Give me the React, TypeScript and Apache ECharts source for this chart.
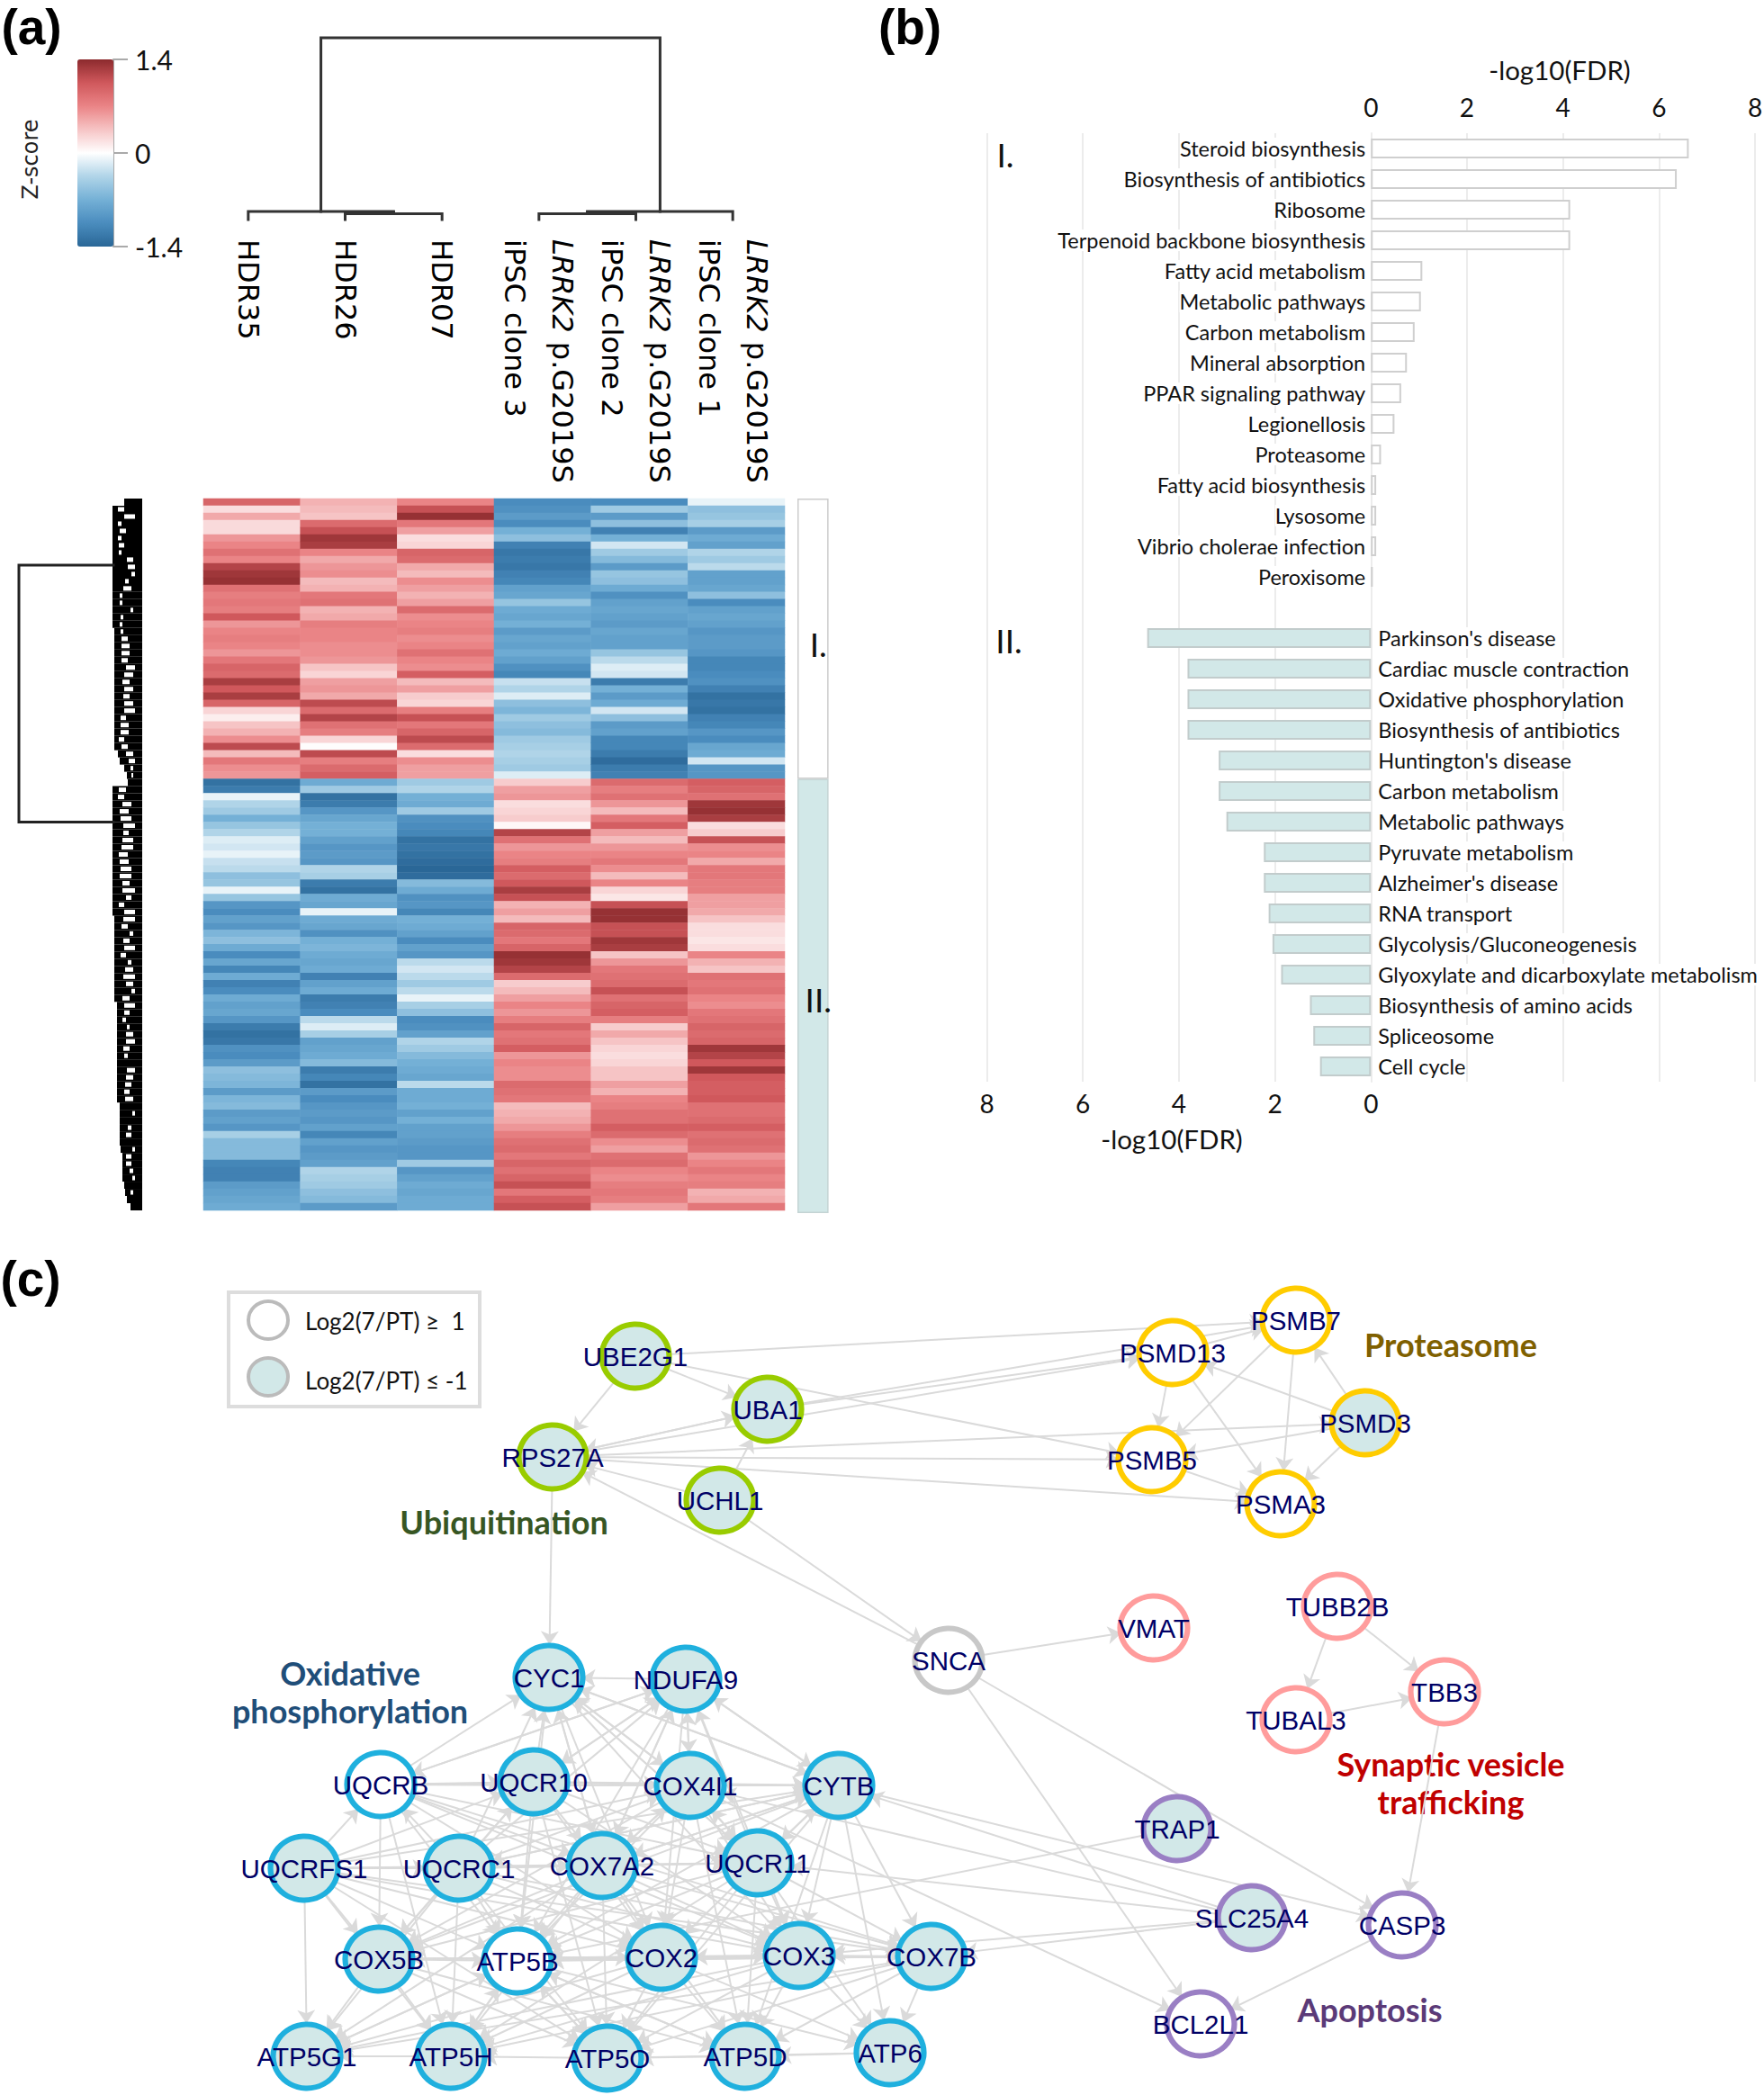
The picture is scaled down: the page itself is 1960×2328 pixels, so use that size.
import React, { useEffect, useRef } from "react";
import * as echarts from "echarts";

const sampleLabels = ["HDR35", "HDR26", "HDR07", "{i|LRRK2} p.G2019S\niPSC clone 3", "{i|LRRK2} p.G2019S\niPSC clone 2", "{i|LRRK2} p.G2019S\niPSC clone 1"];
const sampleNames = ["HDR35", "HDR26", "HDR07", "iPSC3", "iPSC2", "iPSC1"];

const hdr35 = [0.95,0.2,0.5,0.22,0.22,0.6,0.7,0.85,0.7,1.2,1.3,1.35,0.85,0.75,0.8,0.75,1.05,0.6,0.7,0.75,0.7,0.6,0.8,0.95,0.9,1.25,1.05,1.25,0.95,0.25,0.1,0.35,0.45,0.65,1.15,0.4,0.8,0.65,0.6,
  -1.3,-1.2,-0.1,-0.35,-0.45,-0.7,-0.5,-0.35,-0.15,-0.2,-0.1,-0.25,-0.3,-0.55,-0.5,-0.1,-0.5,-0.95,-1.05,-0.85,-0.95,-0.65,-0.55,-0.75,-1.05,-0.8,-1.1,-0.75,-1.15,-1.05,-0.75,-0.85,-0.8,-0.95,-1.2,-1.3,-1.25,-1,-1.05,-0.9,-0.55,-0.6,-0.65,-0.9,-0.65,-0.6,-0.9,-0.85,-0.95,-0.4,-0.6,-0.6,-0.6,-1.1,-1.15,-1.15,-0.9,-0.85,-0.8,-0.75];
const hdr26 = [0.45,0.4,0.35,0.9,1.1,1.3,1.25,0.7,0.5,0.6,0.65,0.4,0.45,0.8,0.85,0.45,0.5,0.75,0.7,0.7,0.65,0.65,0.6,0.35,0.25,0.55,0.6,0.5,1.15,0.9,1.2,0.85,0.75,0.25,0.02,1.15,0.75,0.9,1,
  -0.75,-0.45,-1.3,-1.2,-0.95,-0.8,-0.7,-0.7,-0.85,-0.95,-0.9,-0.95,-0.35,-0.4,-1.2,-1.3,-0.75,-0.8,-0.1,-0.75,-0.8,-1,-0.7,-0.65,-0.75,-0.8,-0.75,-1.15,-0.85,-0.75,-1.2,-1.15,-1.05,-0.3,-0.15,-0.4,-0.85,-0.8,-0.75,-0.6,-1.2,-1.1,-1.3,-0.9,-1.05,-0.95,-0.9,-0.95,-0.85,-1.1,-0.85,-0.95,-0.9,-0.85,-0.35,-0.4,-0.45,-0.55,-0.6,-0.9];
const hdr07 = [0.7,1.1,1.35,0.8,0.55,0.2,0.25,0.95,0.9,0.5,0.4,0.65,0.55,0.45,0.55,0.9,0.65,0.7,0.75,0.65,0.7,0.85,0.7,0.65,1,0.4,0.55,0.3,0.25,0.75,1.1,0.8,0.95,1.15,0.9,0.2,0.65,0.55,0.55,
  -0.45,-0.35,-0.7,-0.75,-0.45,-1,-1.05,-1.1,-1.3,-1.25,-1.3,-1.35,-1.4,-1.35,-0.6,-0.75,-1,-0.95,-1.1,-0.7,-0.75,-0.85,-1.05,-0.85,-0.95,-0.3,-0.2,-0.3,-0.45,-0.3,-0.1,-0.4,-0.55,-1.05,-1,-0.85,-0.35,-0.45,-0.6,-0.7,-0.75,-0.8,-0.3,-0.75,-0.75,-0.7,-0.85,-0.7,-0.85,-0.85,-0.9,-0.95,-0.95,-0.45,-0.95,-0.85,-0.75,-0.8,-0.75,-0.75];
const ipsc3 = [-1.05,-1,-0.9,-1.05,-0.7,-0.55,-1.15,-1.25,-1.2,-1.25,-1.15,-1.1,-0.85,-0.8,-0.5,-0.75,-0.8,-0.7,-0.9,-0.8,-0.85,-0.75,-0.85,-1,-1.1,-0.25,-0.35,-0.15,-0.55,-0.65,-0.45,-0.55,-0.6,-0.45,-0.4,-0.35,-0.4,-0.45,-0.15,
  0.3,0.55,0.6,0.2,0.25,0.3,0.05,1.2,0.85,0.6,0.7,0.75,1,0.9,1.05,1.25,1.1,0.45,0.55,0.4,0.95,0.9,0.8,0.95,1.35,1.3,1.2,0.9,0.3,0.4,0.55,0.7,0.6,0.75,0.95,0.8,0.85,1,0.6,0.7,0.65,0.65,0.9,0.85,0.8,0.4,0.45,0.5,0.6,0.75,0.85,0.9,0.8,0.95,0.85,0.95,1.1,0.8,1,1.1];
const ipsc2 = [-1.05,-0.45,-0.9,-0.55,-1.15,-0.7,-0.2,-0.45,-0.6,-0.9,-0.5,-0.55,-0.75,-1,-0.85,-0.8,-0.85,-0.9,-0.8,-0.85,-0.85,-0.5,-0.3,-0.15,-0.2,-1.2,-0.7,-0.9,-0.75,-0.2,-0.55,-0.9,-0.85,-1.1,-1.1,-1.2,-1.35,-1.2,-1.15,
  0.9,0.75,0.85,0.6,0.4,0.8,1,0.55,0.4,0.6,0.7,0.8,0.65,0.4,0.7,0.25,0.15,1.1,1.35,1.35,1.1,1.1,1.3,1.25,0.35,0.6,0.8,0.85,0.9,1.1,0.85,0.95,1,0.75,0.3,0.5,0.35,0.25,0.2,0.25,0.35,0.35,0.55,0.45,0.7,0.75,0.85,0.85,1,0.9,0.65,0.55,0.85,0.9,0.7,0.65,0.75,0.8,0.75,0.55];
const ipsc1 = [-0.1,-0.55,-0.5,-0.4,-0.9,-0.75,-0.85,-0.35,-0.45,-0.3,-0.85,-0.85,-0.8,-0.55,-1.05,-0.85,-0.8,-0.85,-0.95,-0.9,-0.9,-0.95,-1.1,-1.1,-1.05,-1,-1.15,-1.3,-1.25,-1.3,-1.15,-1.1,-0.95,-1.05,-0.8,-0.75,-0.2,-0.95,-0.95,
  1,0.95,0.85,1.3,1.35,1.25,0.2,0.3,1.1,0.65,0.7,0.5,0.8,0.8,0.75,0.75,0.55,0.55,0.5,0.35,0.2,0.2,0.15,0.2,0.7,0.45,0.35,0.85,0.8,0.85,0.7,0.65,0.8,0.85,0.95,0.9,0.95,1.3,1.2,1.05,1.3,1.05,1,1,1.05,0.85,0.85,0.9,1,0.85,0.9,0.85,0.6,0.7,0.8,0.7,0.75,0.45,0.5,0.8];
const heatColumns = [hdr35, hdr26, hdr07, ipsc3, ipsc2, ipsc1];

const clusterRows = [39, 60.4];
const clusterNames = ["I.", "II."];

// row dendrogram silhouette, per row: total extent, and where a white hole starts and how long it is (in dendrogram height)
const rowDendroExtent = [
  20,33,33,33,33,33,33,33,33,33, 33,33,33,33,33,33,33,33,31,31, 31,31,31,31,31,31,31,31,31,31, 31,31,31,31,31,27,25,20,17,16,
  33,33,33,33,33,33,33,33,33,33, 33,33,33,33,33,33,33,33,31,31, 31,31,31,31,31,31,31,31,31,31, 28,28,28,28,28,28,28,28,28,28,
  28,28,28,28,25,25,25,25,25,25, 24,22,22,22,22,20,19,17,13];
const rowDendroSolid = [
  20,20,8,23,18,23,20,23,10,8, 8,15,12,22,22,10,21,22,21,16, 14,14,16,8,10,14,10,14,10,8, 18,15,15,20,16,10,8,10,10,16,
  18,20,12,15,12,8,15,10,10,16, 15,12,12,14,8,12,20,8,8,16, 10,14,8,18,12,10,8,10,8,14, 8,14,18,14,10,8,14,16,24,8,
  10,12,14,10,25,8,25,12,12,25, 8,12,12,10,8,20,10,17,13];
const rowDendroGap = [
  0,7,12,4,7,4,6,3,7,8, 4,4,9,3,3,3,3,3,3,7, 9,9,7,10,10,8,10,7,10,12, 6,9,9,6,7,8,7,3,2,0,
  8,7,10,10,12,13,6,12,13,10, 10,12,13,8,14,6,6,12,13,7, 4,7,12,6,4,9,13,8,4,8, 12,6,4,3,8,10,7,4,0,9,
  8,7,6,9,0,3,0,4,6,0, 3,6,6,4,3,0,3,0,0];
const rowDendroLinks = [
  [[32, 9.25], [137, 9.25], [137, 45], [32, 45]],
];
// column dendrogram: leaf position, merge height
const colDendroLinks = [
  [[1, 0], [1, 6.5], [2, 6.5], [2, 0]],
  [[1, 8.5], [1.5, 8.5]],
  [[0, 0], [0, 9], [1.5, 9], [1.5, 6.5]],
  [[3, 0], [3, 6.5], [4, 6.5], [4, 0]],
  [[3.5, 8.5], [4, 8.5]],
  [[3.5, 6.5], [3.5, 9], [5, 9], [5, 0]],
  [[0.75, 9], [0.75, 202], [4.25, 202], [4.25, 9]],
];

const upCategories = ["Steroid biosynthesis", "Biosynthesis of antibiotics", "Ribosome", "Terpenoid backbone biosynthesis", "Fatty acid metabolism", "Metabolic pathways", "Carbon metabolism", "Mineral absorption", "PPAR signaling pathway", "Legionellosis", "Proteasome", "Fatty acid biosynthesis", "Lysosome", "Vibrio cholerae infection", "Peroxisome"];
const upValues = [6.62, 6.37, 4.15, 4.15, 1.07, 1.04, 0.91, 0.75, 0.63, 0.49, 0.21, 0.11, 0.11, 0.11, 0.04];
const downCategories = ["Parkinson's disease", "Cardiac muscle contraction", "Oxidative phosphorylation", "Biosynthesis of antibiotics", "Huntington's disease", "Carbon metabolism", "Metabolic pathways", "Pyruvate metabolism", "Alzheimer's disease", "RNA transport", "Glycolysis/Gluconeogenesis", "Glyoxylate and dicarboxylate metabolism", "Biosynthesis of amino acids", "Spliceosome", "Cell cycle"];
const downValues = [4.66, 3.82, 3.82, 3.82, 3.17, 3.17, 3.01, 2.23, 2.23, 2.13, 2.05, 1.87, 1.27, 1.2, 1.06];

// network: name, x, y, pathway, reduced (filled)
const networkNodes: [string, number, number, string, boolean][] = [
  ["UBE2G1", 706, 1507, "ubi", true], ["UBA1", 853, 1566, "ubi", true], ["RPS27A", 614, 1619, "ubi", true], ["UCHL1", 800, 1667, "ubi", true],
  ["PSMB7", 1440, 1467, "pro", false], ["PSMD13", 1303, 1503, "pro", false], ["PSMD3", 1517, 1581, "pro", true], ["PSMB5", 1280, 1622, "pro", false], ["PSMA3", 1423, 1671, "pro", false],
  ["SNCA", 1054, 1845, "none", false],
  ["VMAT", 1282, 1809, "syn", false], ["TUBB2B", 1486, 1785, "syn", false], ["TUBAL3", 1440, 1911, "syn", false], ["TBB3", 1605, 1880, "syn", false],
  ["TRAP1", 1308, 2032, "apo", true], ["SLC25A4", 1391, 2131, "apo", true], ["CASP3", 1558, 2139, "apo", false], ["BCL2L1", 1334, 2249, "apo", false],
  ["CYC1", 610, 1864, "ox", true], ["NDUFA9", 762, 1866, "ox", true],
  ["UQCRB", 423, 1983, "ox", false], ["UQCR10", 593, 1980, "ox", true], ["COX4I1", 767, 1984, "ox", true], ["CYTB", 932, 1984, "ox", true],
  ["UQCRFS1", 338, 2076, "ox", true], ["UQCRC1", 510, 2076, "ox", true], ["COX7A2", 669, 2073, "ox", true], ["UQCR11", 842, 2070, "ox", true],
  ["COX5B", 421, 2177, "ox", true], ["ATP5B", 575, 2179, "ox", false], ["COX2", 735, 2175, "ox", true], ["COX3", 888, 2173, "ox", true], ["COX7B", 1035, 2174, "ox", true],
  ["ATP5G1", 341, 2285, "ox", true], ["ATP5H", 501, 2285, "ox", true], ["ATP5O", 675, 2287, "ox", true], ["ATP5D", 828, 2285, "ox", true], ["ATP6", 989, 2281, "ox", true],
];
const pathwayColors: Record<string, string> = { ubi: "#99cc00", pro: "#ffcc00", none: "#c8c8c8", syn: "#ff9c9c", apo: "#9a7fc4", ox: "#1fb0de" };

const networkEdges: [string, string[]][] = [
  ["UBE2G1", ["UBA1", "RPS27A", "PSMB7", "PSMB5"]],
  ["UBA1", ["RPS27A", "PSMD13", "PSMB7"]],
  ["RPS27A", ["UBA1", "PSMD13", "PSMD3", "PSMB5", "PSMA3", "CYC1"]],
  ["UCHL1", ["RPS27A", "UBA1", "SNCA"]],
  ["SNCA", ["RPS27A", "VMAT", "BCL2L1", "CASP3"]],
  ["PSMD13", ["PSMB5", "PSMA3", "PSMB7"]],
  ["PSMB7", ["PSMB5", "PSMA3"]],
  ["PSMD3", ["PSMB7", "PSMD13", "PSMB5", "PSMA3"]],
  ["PSMB5", ["PSMA3"]],
  ["TUBB2B", ["TUBAL3", "TBB3"]],
  ["TUBAL3", ["TBB3"]],
  ["TBB3", ["CASP3"]],
  ["CASP3", ["BCL2L1"]],
  ["TRAP1", ["ATP5B"]],
  ["SLC25A4", ["CYTB", "COX4I1", "UQCR11", "COX7B", "COX3"]],
  ["NDUFA9", ["CYC1", "COX4I1", "CYTB", "UQCR10", "UQCRB", "COX7A2", "ATP5B", "COX2", "COX3"]],
  ["CYC1", ["COX4I1", "CYTB", "COX7A2", "UQCR11", "COX2", "COX3", "ATP5B"]],
  ["UQCRB", ["CYC1", "NDUFA9", "UQCR10", "COX4I1", "CYTB", "COX7A2", "UQCR11", "COX5B", "ATP5B", "COX2", "COX3", "COX7B", "ATP5H"]],
  ["UQCR10", ["CYC1", "NDUFA9", "COX4I1", "CYTB", "COX7A2", "UQCR11", "COX5B", "ATP5B", "COX2", "COX3", "ATP5O"]],
  ["COX4I1", ["CYC1", "NDUFA9", "CYTB", "UQCR11", "COX7A2", "COX2", "COX3", "ATP5B", "ATP5D", "COX5B", "BCL2L1"]],
  ["CYTB", ["CYC1", "NDUFA9", "UQCR11", "COX7A2", "COX3", "COX7B", "ATP5D", "ATP6", "ATP5O", "UQCRC1", "COX5B", "ATP5B", "CASP3"]],
  ["UQCRFS1", ["UQCRB", "UQCR10", "COX4I1", "CYTB", "UQCRC1", "COX7A2", "UQCR11", "COX5B", "ATP5B", "COX2", "COX3", "COX7B", "ATP5G1", "ATP5H", "ATP5O"]],
  ["UQCRC1", ["UQCRB", "CYC1", "NDUFA9", "UQCR10", "COX4I1", "CYTB", "COX7A2", "UQCR11", "COX5B", "ATP5B", "COX2", "COX3", "COX7B", "ATP5H", "ATP5O", "ATP5G1"]],
  ["COX7A2", ["CYC1", "NDUFA9", "COX4I1", "CYTB", "UQCR11", "COX5B", "ATP5B", "COX2", "COX3", "COX7B", "ATP5G1", "ATP5H", "ATP5O", "ATP5D"]],
  ["UQCR11", ["CYC1", "NDUFA9", "COX4I1", "CYTB", "COX5B", "ATP5B", "COX2", "COX3", "COX7B", "ATP5H", "ATP5O", "ATP5D", "ATP6"]],
  ["COX5B", ["ATP5B", "COX2", "COX3", "COX7B", "ATP5G1", "ATP5H", "ATP5O", "ATP5D"]],
  ["ATP5B", ["COX3", "COX7B", "ATP5H", "ATP5O", "ATP5D", "ATP5G1", "ATP6"]],
  ["COX2", ["ATP5B", "ATP5G1", "ATP5H", "ATP5O", "ATP5D", "ATP6"]],
  ["COX3", ["COX2", "ATP5B", "ATP5G1", "ATP5H", "ATP5O", "ATP5D", "ATP6", "COX5B"]],
  ["COX7B", ["COX3", "ATP5B", "ATP5G1", "ATP5H", "ATP5O", "ATP5D", "ATP6", "COX5B"]],
  ["ATP5G1", ["ATP5B"]],
  ["ATP5H", ["ATP5G1", "ATP5B"]],
  ["ATP5O", ["ATP5H", "ATP5B"]],
  ["ATP5D", ["ATP5O", "ATP5B"]],
  ["ATP6", ["ATP5D", "ATP5O"]],
];

const hiddenValue = (gridIndex: number, min: number, max: number, inverse = false) => ({
  type: "value", gridIndex, min, max, inverse, show: false, splitLine: { show: false },
});
const CAL = "Lato, 'Open Sans', sans-serif";
const TEAL = "#d2e8e8";
const fixedGrid = (left: number, top: number, width: number, height: number) => ({ left, top, width, height, outerBoundsMode: "none" });

function buildOption() {
  const heatData: number[][] = [];
  heatColumns.forEach((col, c) => col.forEach((v, r) => heatData.push([c, r, v])));
  const rowIdx = heatColumns[0].map((_, i) => String(i));

  const nodes = networkNodes.map(([name, x, y, group, filled]) => ({
    name,
    value: [x, y],
    symbolSize: [75, 71],
    itemStyle: { color: filled ? TEAL : "#fff", borderColor: pathwayColors[group], borderWidth: 6 },
  }));
  const edges: { source: string; target: string }[] = [];
  networkEdges.forEach(([s, ts]) => ts.forEach((t) => edges.push({ source: s, target: t })));

  const linkSeries = (links: number[][][], xi: number, yi: number, width: number, color: string) =>
    links.map((data) => ({
      type: "line", xAxisIndex: xi, yAxisIndex: yi, data, showSymbol: false, symbol: "none", silent: true, clip: false,
      lineStyle: { color, width, cap: "square", join: "miter" },
    }));

  const text = (x: number, y: number, t: string, fontSize: number, fill = "#000", extra: any = {}) => ({
    type: "text", x, y, silent: true,
    style: { text: t, fontSize, fill, fontFamily: CAL, align: "center", verticalAlign: "middle", ...extra },
  });
  const panelLabel = { fontFamily: "'Liberation Sans', sans-serif", fontWeight: "bold" };
  const groupLabel = { fontWeight: "bold" };
  const barAxisLabel = { margin: 15, color: "#111", fontFamily: CAL, fontSize: 28 };
  const catAxisLine = { show: true, onZero: false, lineStyle: { color: "#ececec", width: 2 } };

  return {
    animation: false,
    backgroundColor: "#fff",
    grid: [
      fixedGrid(226, 554, 646, 791),
      fixedGrid(86, 66, 40, 208),
      fixedGrid(222, 42, 646, 202),
      fixedGrid(21, 554, 137, 791),
      fixedGrid(21, 554, 137, 791),
      fixedGrid(886, 554, 34.6, 794),
      fixedGrid(1096.5, 148, 853.5, 1054),
      fixedGrid(1523.25, 148, 426.75, 510),
      fixedGrid(1096.5, 692, 426.75, 510),
      fixedGrid(0, 0, 1960, 2328),
      fixedGrid(21, 554, 137, 791),
    ],
    xAxis: [
      { type: "category", gridIndex: 0, data: sampleNames, show: false },
      hiddenValue(1, 0, 1),
      { ...hiddenValue(2, -0.5, 5.5), position: "top" },
      {
        type: "category", gridIndex: 2, data: sampleLabels, position: "bottom",
        axisLine: { show: false }, axisTick: { show: false },
        axisLabel: {
          interval: 0, rotate: -90, margin: 22, color: "#000", fontFamily: "'DejaVu Sans', sans-serif", fontSize: 32, lineHeight: 53,
          rich: { i: { fontStyle: "italic", fontFamily: "'DejaVu Sans', sans-serif", fontSize: 32, lineHeight: 53, color: "#000" } },
        },
      },
      hiddenValue(3, 0, 137, true),
      hiddenValue(4, 0, 137, true),
      { type: "category", gridIndex: 5, data: ["cluster"], show: false },
      {
        type: "value", gridIndex: 6, min: -8, max: 8, interval: 2,
        axisLine: { show: false }, axisTick: { show: false }, axisLabel: { show: false },
        splitLine: { show: true, lineStyle: { color: "#ececec", width: 2 } },
      },
      {
        type: "value", gridIndex: 7, position: "top", min: 0, max: 8, interval: 2,
        axisLine: { show: false }, axisTick: { show: false }, splitLine: { show: false }, axisLabel: barAxisLabel,
      },
      {
        type: "value", gridIndex: 8, position: "bottom", inverse: true, min: 0, max: 8, interval: 2,
        axisLine: { show: false }, axisTick: { show: false }, splitLine: { show: false }, axisLabel: { ...barAxisLabel, margin: 10 },
      },
      hiddenValue(9, 0, 1960),
      hiddenValue(10, 0, 137, true),
    ],
    yAxis: [
      { type: "category", gridIndex: 0, data: rowIdx, inverse: true, show: false },
      {
        type: "value", gridIndex: 1, position: "right", min: -1.4, max: 1.4, interval: 1.4,
        axisLine: { show: true, onZero: false, lineStyle: { color: "#aaa", width: 2 } },
        axisTick: { show: true, length: 16, lineStyle: { color: "#aaa", width: 2 } },
        splitLine: { show: false },
        axisLabel: { margin: 24, color: "#111", fontFamily: CAL, fontSize: 30 },
      },
      hiddenValue(2, 0, 202),
      { type: "category", gridIndex: 3, data: rowIdx, inverse: true, show: false },
      hiddenValue(4, 0, 99, true),
      hiddenValue(5, 0, 99.4, true),
      hiddenValue(6, 0, 1),
      {
        type: "category", gridIndex: 7, data: upCategories, inverse: true, position: "left",
        axisLine: catAxisLine, axisTick: { show: false },
        axisLabel: { interval: 0, margin: 6, color: "#111", fontFamily: CAL, fontSize: 23.5, backgroundColor: "#fff" },
      },
      {
        type: "category", gridIndex: 8, data: downCategories, inverse: true, position: "right",
        axisLine: catAxisLine, axisTick: { show: false },
        axisLabel: { interval: 0, margin: 8, color: "#111", fontFamily: CAL, fontSize: 23.5, backgroundColor: "#fff" },
      },
      hiddenValue(9, 0, 2328, true),
      { type: "category", gridIndex: 10, data: rowIdx, inverse: true, show: false },
    ],
    visualMap: {
      type: "continuous", seriesIndex: 0, dimension: 2, min: -1.4, max: 1.4, calculable: false,
      left: 86, top: 66, itemWidth: 40, itemHeight: 208, padding: 0,
      inRange: { color: ["#2a6797", "#4a8cbe", "#74b0d6", "#b0d4e8", "#ffffff", "#f6c4c5", "#ea8486", "#d0585c", "#8c2a2d"] },
    },
    series: [
      { type: "heatmap", xAxisIndex: 0, yAxisIndex: 0, data: heatData, silent: true, progressive: 0, itemStyle: { borderWidth: 0 } },
      { type: "bar", xAxisIndex: 4, yAxisIndex: 3, data: rowDendroExtent, barWidth: "100%", silent: true, itemStyle: { color: "#000" } },
      { type: "bar", xAxisIndex: 11, yAxisIndex: 10, stack: "holes", data: rowDendroSolid, barWidth: 5, silent: true, itemStyle: { color: "transparent" } },
      { type: "bar", xAxisIndex: 11, yAxisIndex: 10, stack: "holes", data: rowDendroGap, barWidth: 5, silent: true, itemStyle: { color: "#fff" } },
      ...linkSeries(rowDendroLinks, 5, 4, 3, "#222"),
      ...linkSeries(colDendroLinks, 2, 2, 3, "#333"),
      {
        type: "bar", xAxisIndex: 6, yAxisIndex: 5, stack: "cluster", barWidth: "100%", silent: true,
        data: [clusterRows[0]], itemStyle: { color: "#fff", borderColor: "#ccc", borderWidth: 1.5 },
        label: { show: true, position: "inside", offset: [6, 6], formatter: clusterNames[0], fontFamily: CAL, fontSize: 37, color: "#111" },
      },
      {
        type: "bar", xAxisIndex: 6, yAxisIndex: 5, stack: "cluster", barWidth: "100%", silent: true,
        data: [clusterRows[1]], itemStyle: { color: TEAL, borderColor: "#c4d4d4", borderWidth: 1.5 },
        label: { show: true, position: "inside", offset: [6, 4], formatter: clusterNames[1], fontFamily: CAL, fontSize: 37, color: "#111" },
      },
      {
        type: "bar", xAxisIndex: 8, yAxisIndex: 7, data: upValues, barWidth: 22, silent: true,
        itemStyle: { color: "#fff", borderColor: "#cfcfcf", borderWidth: 2 },
      },
      {
        type: "bar", xAxisIndex: 9, yAxisIndex: 8, data: downValues, barWidth: 22, silent: true,
        itemStyle: { color: TEAL, borderColor: "#c2cccc", borderWidth: 2 },
      },
      {
        type: "graph", coordinateSystem: "cartesian2d", xAxisIndex: 10, yAxisIndex: 9, layout: "none", silent: true,
        data: nodes, edges, edgeSymbol: ["none", "arrow"], edgeSymbolSize: [0, 15],
        lineStyle: { color: "#dadada", width: 2, opacity: 1, curveness: 0 },
        label: { show: true, position: "inside", color: "#000066", fontFamily: "'Liberation Sans', sans-serif", fontSize: 29.5 },
      },
    ],
    graphic: [
      text(35, 30, "(a)", 55, "#000", panelLabel),
      text(1011, 30, "(b)", 55, "#000", panelLabel),
      text(34, 1421, "(c)", 55, "#000", panelLabel),
      { ...text(34, 177, "Z-score", 24, "#222", { fontFamily: "'DejaVu Sans', sans-serif" }), rotation: Math.PI / 2 },
      text(1733, 77, "-log10(FDR)", 29.5, "#111"),
      text(1302, 1265, "-log10(FDR)", 29.5, "#111"),
      text(1117, 171, "I.", 37, "#111"),
      text(1121, 711, "II.", 37, "#111"),
      { type: "rect", shape: { x: 254, y: 1436, width: 279, height: 127 }, silent: true, style: { fill: "#fff", stroke: "#ddd", lineWidth: 4 } },
      { type: "ellipse", shape: { cx: 298, cy: 1467, rx: 22, ry: 21 }, silent: true, style: { fill: "#fff", stroke: "#bbb", lineWidth: 4 } },
      { type: "ellipse", shape: { cx: 298, cy: 1530, rx: 22, ry: 21 }, silent: true, style: { fill: TEAL, stroke: "#bbb", lineWidth: 4 } },
      text(339, 1468, "Log2(7/PT) ≥  1", 26, "#111", { align: "left" }),
      text(339, 1534, "Log2(7/PT) ≤ -1", 26, "#111", { align: "left" }),
      text(560, 1691, "Ubiquitination", 36, "#375623", groupLabel),
      text(389, 1859, "Oxidative", 36, "#1f4e79", groupLabel),
      text(389, 1901, "phosphorylation", 36, "#1f4e79", groupLabel),
      text(1612, 1494, "Proteasome", 36, "#7f6000", groupLabel),
      text(1612, 1960, "Synaptic vesicle", 36, "#c00000", groupLabel),
      text(1612, 2002, "trafficking", 36, "#c00000", groupLabel),
      text(1522, 2233, "Apoptosis", 36, "#5b3a78", groupLabel),
    ],
  };
}

export default function App() {
  const ref = useRef<HTMLDivElement>(null);
  useEffect(() => {
    const chart = echarts.init(ref.current as HTMLDivElement, undefined, { renderer: "svg" });
    chart.setOption(buildOption() as any);
    return () => chart.dispose();
  }, []);
  return <div ref={ref} style={{ position: "absolute", left: 0, top: 0, width: 1960, height: 2328 }} />;
}
